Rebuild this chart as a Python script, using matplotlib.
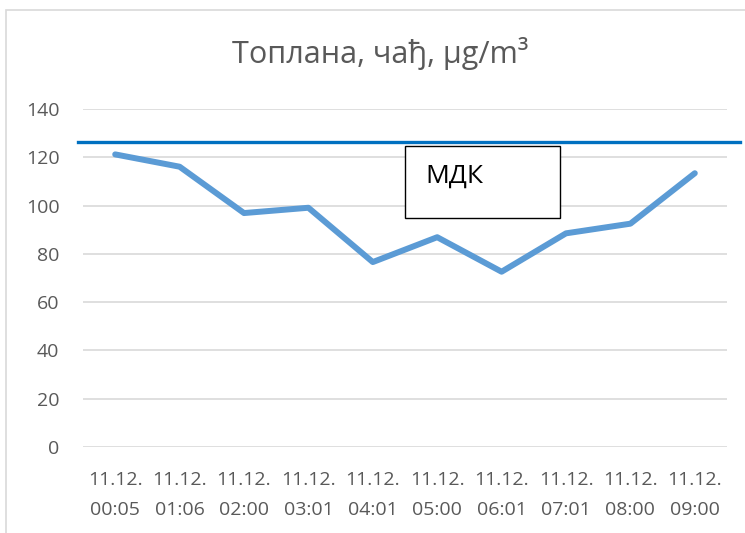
import matplotlib
matplotlib.use('Agg')
import matplotlib.pyplot as plt
from matplotlib.patches import Rectangle

# data
dates = ['11.12.'] * 10
times = ['00:05', '01:06', '02:00', '03:01', '04:01', '05:00', '06:01', '07:01', '08:00', '09:00']
values = [121.2, 116.1, 96.9, 99.1, 76.6, 86.9, 72.6, 88.5, 92.5, 113.4]
mdk_level = 126.5
yticks = [0, 20, 40, 60, 80, 100, 120, 140]

labels = [d + '\n' + t for d, t in zip(dates, times)]

plt.rcParams['font.family'] = ['Open Sans', 'DejaVu Sans']
grey = '#595959'

fig = plt.figure(figsize=(7.45, 5.33), dpi=100)
ax = fig.add_axes([83 / 745, 1 - 447 / 533, 644 / 745, 338 / 533])

x = list(range(len(values)))
ax.plot(x, values, color='#5b9bd5', lw=4.3, solid_capstyle='round', solid_joinstyle='round', zorder=3)

# МДК limit line, runs past the plot area to the right
ax.axhline(mdk_level, xmin=-0.007, xmax=1.02, color='#0070c0', lw=2.4, clip_on=False, zorder=4)

ax.set_xlim(-0.5, len(values) - 0.5)
ax.set_ylim(0, 140)
ax.set_yticks(yticks)
ax.set_xticks(x)
ax.set_xticklabels(labels, linespacing=1.85)
ax.tick_params(axis='both', length=0, labelsize=14, colors=grey)
ax.tick_params(axis='y', pad=17)
ax.tick_params(axis='x', pad=17)
ax.grid(axis='y', color='#d9d9d9', lw=1.2)
ax.set_axisbelow(True)
for s in ax.spines.values():
    s.set_visible(False)

# title is centred on the whole chart area, not on the plot
fig.text(380 / 745, 1 - 53 / 533, 'Топлана, чађ, μg/m³', fontsize=22, color=grey,
         ha='center', va='center')

# text box with МДК label
ax.add_patch(Rectangle((0.5, 0.678), 0.241, 0.213, transform=ax.transAxes,
                       fc='white', ec='black', lw=1.0, zorder=5, clip_on=False))
ax.text(0.531, 0.8, 'МДК', transform=ax.transAxes, fontsize=19, color='black',
        va='center', ha='left', zorder=6)

# chart border
fig.patches.append(Rectangle((6 / 745, -0.1), 1.2, 1 - 10 / 533 + 0.1, transform=fig.transFigure,
                             fill=False, ec='#d9d9d9', lw=1.2))

fig.savefig('out.png', dpi=100)
